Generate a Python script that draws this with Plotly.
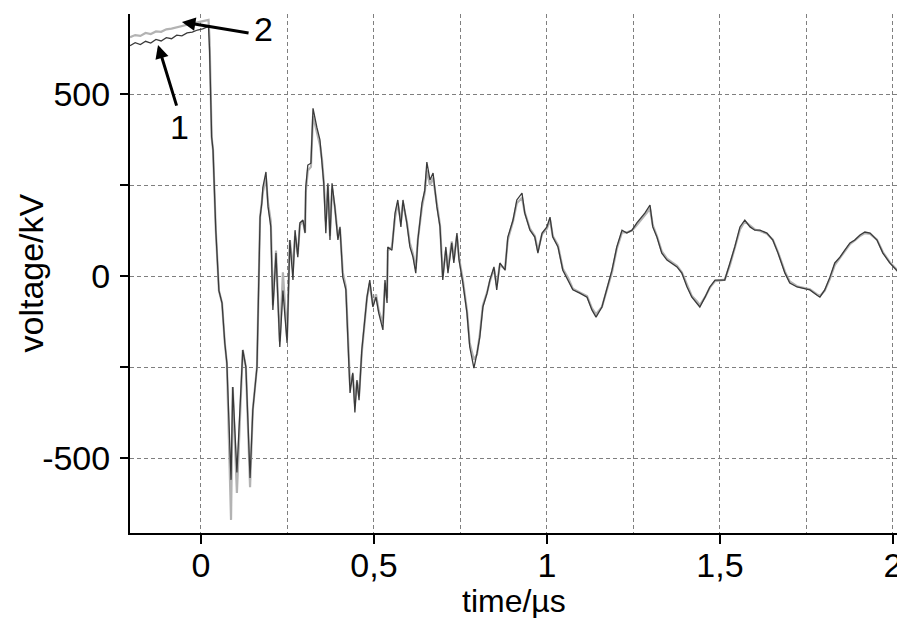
import plotly.graph_objects as go

# time in microseconds
t = [-0.205, -0.19, -0.175, -0.16, -0.145, -0.13, -0.115, -0.10, -0.085, -0.07,
     -0.055, -0.04, -0.025, -0.01, 0.005, 0.018, 0.022, 0.025, 0.031, 0.035,
     0.043, 0.052, 0.058, 0.061, 0.069, 0.075, 0.087, 0.092, 0.104, 0.116,
     0.121, 0.130, 0.142, 0.150, 0.162, 0.171, 0.176, 0.179, 0.188, 0.194,
     0.202, 0.208, 0.217, 0.228, 0.237, 0.249, 0.257, 0.266, 0.272, 0.280,
     0.286, 0.295, 0.301, 0.303, 0.309, 0.318, 0.324, 0.335, 0.344, 0.350,
     0.355, 0.361, 0.367, 0.373, 0.379, 0.387, 0.396, 0.402, 0.410, 0.419,
     0.425, 0.431, 0.439, 0.445, 0.451, 0.457, 0.465, 0.474, 0.480, 0.488,
     0.497, 0.506, 0.514, 0.526, 0.532, 0.538, 0.540, 0.552, 0.561, 0.569,
     0.578, 0.584, 0.595, 0.604, 0.613, 0.621, 0.627, 0.639, 0.647, 0.653,
     0.662, 0.671, 0.682, 0.691, 0.699, 0.708, 0.714, 0.725, 0.731, 0.740,
     0.746, 0.757, 0.769, 0.777, 0.789, 0.798, 0.806, 0.815, 0.827, 0.835,
     0.847, 0.855, 0.864, 0.879, 0.887, 0.902, 0.913, 0.928, 0.936, 0.951,
     0.965, 0.974, 0.986, 1.000, 1.009, 1.017, 1.032, 1.046, 1.061, 1.075,
     1.095, 1.116, 1.130, 1.142, 1.159, 1.173, 1.188, 1.202, 1.217, 1.231,
     1.246, 1.260, 1.283, 1.298, 1.306, 1.318, 1.332, 1.347, 1.361, 1.376,
     1.390, 1.405, 1.419, 1.434, 1.442, 1.457, 1.471, 1.486, 1.500, 1.514,
     1.529, 1.543, 1.558, 1.572, 1.587, 1.601, 1.616, 1.636, 1.653, 1.668,
     1.688, 1.702, 1.723, 1.740, 1.760, 1.780, 1.789, 1.803, 1.818, 1.832,
     1.847, 1.861, 1.876, 1.890, 1.905, 1.919, 1.934, 1.954, 1.971, 1.991,
     2.012, 2.029]

# voltage in kV, curve 1 (dark)
v1 = [633, 641, 636, 645, 640, 650, 646, 655, 652, 662,
      660, 668, 670, 676, 679, 684, 686, 620, 382, 346,
      126, -40, -60, -74, -184, -239, -560, -305, -540, -294,
      -203, -250, -555, -368, -250, 162, 200, 244, 286, 190,
      135, -93, 63, -195, -40, -184, 99, -11, 126, 52,
      146, 154, 118, 244, 305, 310, 461, 409, 374, 310,
      255, 118, 255, 99, 255, 190, 99, 135, -3, -38,
      -176, -321, -266, -375, -286, -341, -203, -102, -58, -11,
      -85, -58, -102, -148, -11, -74, 80, 71, 173, 209,
      135, 209, 146, 80, 52, 8, 99, 201, 236, 313,
      264, 283, 190, 135, -11, 80, 8, 91, 36, 118,
      44, -19, -102, -195, -253, -212, -168, -85, -47, -11,
      25, -38, 36, 16, 107, 154, 209, 228, 173, 126,
      107, 63, 118, 135, 162, 107, 80, 16, -11, -38,
      -47, -58, -93, -113, -85, -38, 16, 80, 126, 118,
      126, 146, 173, 195, 135, 107, 63, 44, 36, 25,
      8, -30, -58, -74, -85, -58, -30, -11, -11, -11,
      36, 80, 135, 154, 135, 126, 126, 118, 99, 63,
      8, -19, -30, -33, -38, -52, -58, -38, -3, 36,
      52, 71, 91, 99, 113, 121, 118, 99, 63, 36,
      16, -3]

# voltage in kV, curve 2 (light)
v2 = [656, 662, 660, 668, 665, 672, 671, 678, 680, 684,
      688, 690, 694, 697, 701, 703, 704, 650, 382, 346,
      126, -40, -60, -74, -184, -239, -670, -305, -596, -294,
      -203, -250, -580, -368, -250, 162, 200, 230, 270, 200,
      150, -80, 70, -180, 10, -170, 99, 20, 110, 60,
      140, 150, 120, 230, 290, 300, 440, 400, 360, 320,
      260, 150, 250, 110, 240, 190, 110, 130, 10, -30,
      -160, -300, -270, -350, -290, -330, -210, -110, -60, -20,
      -80, -50, -95, -130, -20, -60, 70, 80, 160, 200,
      150, 200, 150, 90, 60, 20, 100, 190, 230, 290,
      250, 270, 195, 140, 0, 70, 20, 95, 45, 110,
      50, -10, -95, -185, -230, -215, -160, -80, -45, -15,
      20, -25, 30, 20, 100, 150, 200, 215, 175, 130,
      110, 70, 115, 130, 155, 110, 85, 20, -5, -35,
      -45, -55, -88, -105, -85, -40, 10, 75, 120, 120,
      125, 140, 168, 185, 140, 110, 68, 48, 38, 28,
      10, -25, -55, -70, -80, -58, -32, -14, -12, -10,
      30, 75, 128, 150, 138, 128, 124, 116, 100, 66,
      12, -15, -28, -32, -36, -50, -55, -40, -8, 30,
      50, 70, 88, 98, 110, 118, 116, 100, 66, 38,
      18, 0]

x_tickvals = [0, 0.5, 1, 1.5, 2]
x_ticktext = ["0", "0,5", "1", "1,5", "2"]
y_tickvals = [-500, -250, 0, 250, 500]
y_ticktext = ["-500", "", "0", "", "500"]

FONT = "Liberation Sans, Arial, sans-serif"
GRID = "#7f7f7f"

fig = go.Figure()
fig.add_trace(go.Scatter(x=t, y=v2, mode="lines", name="2",
                         line=dict(color="#b3b3b3", width=2.2)))
fig.add_trace(go.Scatter(x=t, y=v1, mode="lines", name="1",
                         line=dict(color="#3a3a3a", width=1.3)))

# the page body has an 8px margin, so the figure is 8px smaller
fig.update_layout(
    width=897, height=610,
    margin=dict(l=122, r=0, t=6, b=85, autoexpand=False),
    paper_bgcolor="white", plot_bgcolor="white",
    showlegend=False,
    font=dict(family=FONT, size=34, color="black"),
)

fig.update_xaxes(
    range=[-0.205, 2.035], automargin=False,
    tickvals=x_tickvals, ticktext=x_ticktext,
    ticks="outside", ticklen=9, tickwidth=2, tickcolor="black",
    ticklabelstandoff=-8,
    showline=True, linecolor="black", linewidth=2,
    showgrid=True, gridcolor=GRID, gridwidth=1, griddash="4px,3px",
    minor=dict(dtick=0.25, tick0=0, showgrid=True, gridcolor=GRID,
               gridwidth=1, griddash="4px,3px", ticks=""),
    zeroline=False,
    tickfont=dict(size=34),
)
fig.update_yaxes(
    range=[-706, 720], automargin=False,
    tickvals=y_tickvals, ticktext=y_ticktext,
    ticks="outside", ticklen=8, tickwidth=2, tickcolor="black",
    ticklabelstandoff=3,
    showline=True, linecolor="black", linewidth=2,
    showgrid=True, gridcolor=GRID, gridwidth=1, griddash="4px,3px",
    zeroline=False,
    tickfont=dict(size=34),
)

# axis titles
fig.add_annotation(x=0.495, y=-0.131, xref="paper", yref="paper",
                   text="time/µs", showarrow=False, xanchor="center",
                   yanchor="middle", font=dict(size=32, family=FONT))
fig.add_annotation(x=-0.129, y=0.5, xref="paper", yref="paper",
                   text="voltage/kV", showarrow=False, textangle=-90,
                   xanchor="center", yanchor="middle",
                   font=dict(size=34, family=FONT))

# arrows and labels
fig.add_annotation(x=-0.124, y=635, ax=-0.069, ay=464, xref="x", yref="y",
                   axref="x", ayref="y", showarrow=True, arrowhead=2,
                   arrowsize=0.9, arrowwidth=3, arrowcolor="black", text="")
fig.add_annotation(x=-0.061, y=410, xref="x", yref="y", text="1",
                   showarrow=False, font=dict(size=34, family=FONT))
fig.add_annotation(x=-0.055, y=698, ax=0.142, ay=667, xref="x", yref="y",
                   axref="x", ayref="y", showarrow=True, arrowhead=2,
                   arrowsize=0.9, arrowwidth=3, arrowcolor="black", text="")
fig.add_annotation(x=0.182, y=680, xref="x", yref="y", text="2",
                   showarrow=False, font=dict(size=34, family=FONT))

fig.write_html("out.html")
